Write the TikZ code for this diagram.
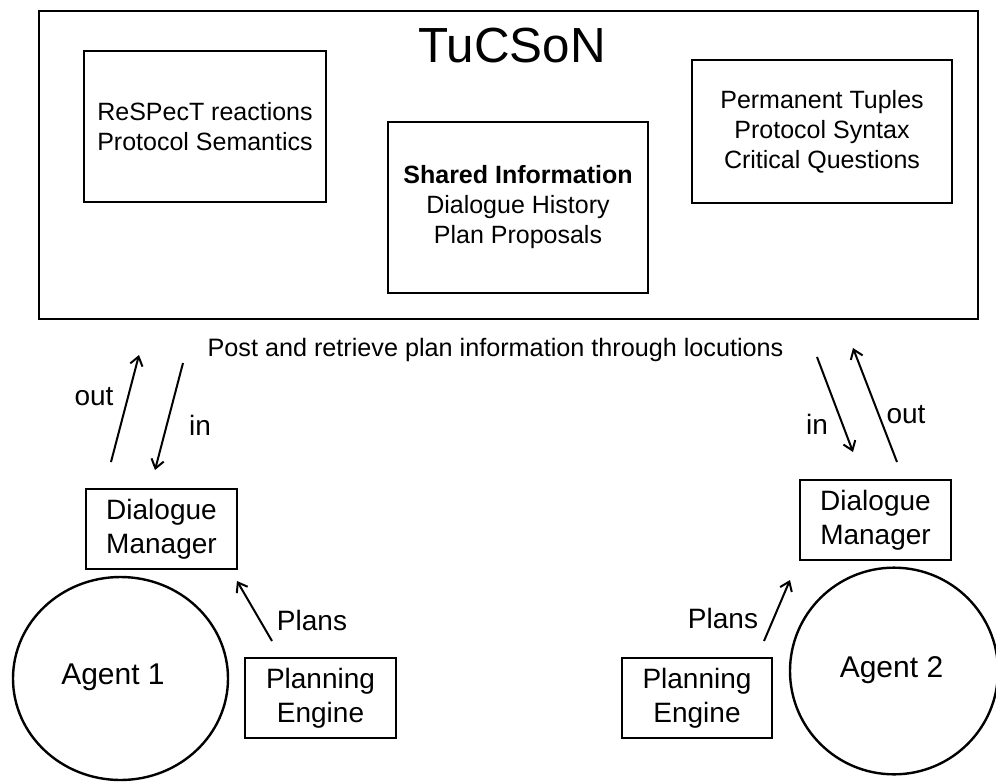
\documentclass[tikz,border=0pt]{standalone}
\usepackage{fontspec}
\setmainfont{Liberation Sans}
\usetikzlibrary{arrows.meta,shapes.geometric}
\tikzset{
  bigbox/.style={draw, line width=1.5pt, inner sep=0pt, align=center,
    font=\fontsize{18.75}{22.5}\selectfont},
  smallbox/.style={draw, line width=0.8pt, inner sep=0pt, align=center,
    minimum width=113.25pt, minimum height=60pt,
    font=\fontsize{21}{25.5}\selectfont},
  agent/.style={draw, ellipse, line width=1.8pt, inner sep=0pt,
    font=\fontsize{22.5}{27}\selectfont},
  lbl/.style={font=\fontsize{21}{25}\selectfont, inner sep=0pt},
  conn/.style={line width=1.5pt, -{Straight Barb[length=6.5pt,width=9.5pt,line width=1.5pt]}}
}
\begin{document}
\begin{tikzpicture}[x=0.75pt,y=-0.75pt]
\useasboundingbox (0,0) rectangle (996,782);
% TuCSoN container
\node[bigbox, minimum width=704.25pt, minimum height=231pt] (tucson) at (508.5,165) {};
\node[font=\fontsize{37}{44}\selectfont, inner sep=0pt] (title) at (512,46) {TuCSoN};
\node[bigbox, minimum width=181.5pt, minimum height=113.25pt] (respect) at (205,126.5)
  {ReSPecT reactions\\Protocol Semantics};
\node[bigbox, minimum width=195pt, minimum height=128.25pt] (shared) at (518,207.5)
  {\textbf{Shared Information}\\Dialogue History\\Plan Proposals};
\node[bigbox, minimum width=195pt, minimum height=107.25pt] (perm) at (822,131.5)
  {Permanent Tuples\\Protocol Syntax\\Critical Questions};
\node[font=\fontsize{18.9}{22.5}\selectfont, inner sep=0pt] (post) at (495.5,350)
  {Post and retrieve plan information through locutions};
% Left agent
\node[smallbox] (dm1) at (161.5,529) {Dialogue\\Manager};
\node[smallbox] (pe1) at (320.5,698) {Planning\\Engine};
\node[agent, minimum width=161.25pt, minimum height=152.25pt] (ag1) at (120.5,678.5) {};
\node[font=\fontsize{22.5}{27}\selectfont, inner sep=0pt] (ag1t) at (113,677) {Agent 1};
% Right agent
\node[smallbox] (dm2) at (875.5,520) {Dialogue\\Manager};
\node[smallbox, minimum width=112.5pt] (pe2) at (697,698) {Planning\\Engine};
\node[agent, minimum width=156pt, minimum height=155pt] (ag2) at (894,671) {};
\node[font=\fontsize{22.5}{27}\selectfont, inner sep=0pt] (ag2t) at (891.5,670) {Agent 2};
% labels
\node[lbl] (out1) at (94,397) {out};
\node[lbl] (in1) at (200,425) {in};
\node[lbl] (plans1) at (312,620) {Plans};
\node[lbl] (plans2) at (723,618) {Plans};
\node[lbl] (in2) at (817,424) {in};
\node[lbl] (out2) at (906,415) {out};
% connector end points
\coordinate (o1s) at (111,462);
\coordinate (o1e) at (139,355);
\coordinate (i1s) at (183,363);
\coordinate (i1e) at (155,470);
\coordinate (p1s) at (272,641);
\coordinate (p1e) at (237,581);
\coordinate (p2s) at (764,641);
\coordinate (p2e) at (790,580);
\coordinate (i2s) at (817,357);
\coordinate (i2e) at (853,452);
\coordinate (o2s) at (897,462);
\coordinate (o2e) at (853,348);
% connectors
\draw[conn] (o1s) -- (o1e);
\draw[conn] (i1s) -- (i1e);
\draw[conn] (p1s) -- (p1e);
\draw[conn] (p2s) -- (p2e);
\draw[conn] (i2s) -- (i2e);
\draw[conn] (o2s) -- (o2e);
\end{tikzpicture}
\end{document}
